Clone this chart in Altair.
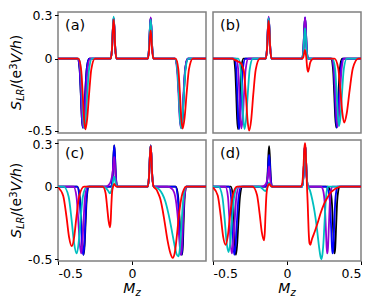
import altair as alt
import pandas as pd

SERIES = ["black", "blue", "purple", "cyan", "red"]
COLORS = {"black": "#000000", "blue": "#0000ff", "purple": "#9400d3",
          "cyan": "#00bfbf", "red": "#ff0000"}
PANEL_LABELS = ["(a)", "(b)", "(c)", "(d)"]
Y_TICKS = [-0.5, 0, 0.3]
X_TICKS = [-0.5, 0, 0.5]
X_DOMAIN = [-0.5, 0.5]
Y_DOMAIN = [-0.512, 0.322]

# ---------------- panel (a) ----------------
A_BLACK = [(-0.368,0),(-0.354,-0.071),(-0.346,-0.238),(-0.339,-0.404),(-0.332,-0.475),(-0.324,-0.404),(-0.316,-0.238),(-0.306,-0.071),(-0.29,0),
           (-0.144,0),(-0.135,0.07),(-0.129,0.21),(-0.124,0.28),(-0.119,0.21),(-0.113,0.07),(-0.104,0),
           (0.106,0),(0.115,0.07),(0.121,0.21),(0.126,0.28),(0.131,0.21),(0.137,0.07),(0.146,0),
           (0.291,0),(0.307,-0.071),(0.317,-0.238),(0.325,-0.404),(0.333,-0.475),(0.342,-0.404),(0.35,-0.238),(0.36,-0.071),(0.377,0)]
A_BLUE = [(-0.368,0),(-0.354,-0.071),(-0.346,-0.238),(-0.339,-0.404),(-0.332,-0.475),(-0.324,-0.404),(-0.316,-0.238),(-0.306,-0.071),(-0.29,0),
          (-0.144,0),(-0.135,0.07),(-0.129,0.21),(-0.124,0.28),(-0.119,0.21),(-0.113,0.07),(-0.104,0),
          (0.106,0),(0.115,0.07),(0.121,0.21),(0.126,0.28),(0.131,0.21),(0.137,0.07),(0.146,0),
          (0.291,0),(0.307,-0.071),(0.317,-0.238),(0.325,-0.404),(0.333,-0.475),(0.342,-0.404),(0.35,-0.238),(0.36,-0.071),(0.377,0)]
A_PURPLE = [(-0.365,0),(-0.351,-0.071),(-0.343,-0.238),(-0.336,-0.404),(-0.329,-0.475),(-0.32,-0.404),(-0.311,-0.238),(-0.3,-0.071),(-0.282,0),
            (-0.144,0),(-0.135,0.07),(-0.129,0.21),(-0.124,0.28),(-0.119,0.21),(-0.113,0.07),(-0.104,0),
            (0.106,0),(0.115,0.071),(0.121,0.214),(0.126,0.285),(0.131,0.214),(0.137,0.071),(0.146,0),
            (0.288,0),(0.304,-0.071),(0.314,-0.238),(0.322,-0.404),(0.33,-0.475),(0.339,-0.404),(0.348,-0.238),(0.359,-0.071),(0.377,0)]
A_CYAN = [(-0.361,0),(-0.346,-0.072),(-0.337,-0.24),(-0.33,-0.408),(-0.322,-0.48),(-0.312,-0.408),(-0.302,-0.24),(-0.29,-0.072),(-0.27,0),
          (-0.144,0),(-0.135,0.073),(-0.129,0.218),(-0.124,0.29),(-0.119,0.218),(-0.113,0.073),(-0.104,0),
          (0.106,0),(0.115,0.068),(0.121,0.203),(0.126,0.27),(0.131,0.203),(0.137,0.068),(0.146,0),
          (0.29,0),(0.306,-0.072),(0.316,-0.24),(0.324,-0.408),(0.332,-0.48),(0.341,-0.408),(0.351,-0.24),(0.362,-0.072),(0.381,0)]
A_RED = [(-0.362,0),(-0.344,-0.073),(-0.333,-0.244),(-0.324,-0.414),(-0.315,-0.487),(-0.303,-0.414),(-0.29,-0.244),(-0.275,-0.073),(-0.25,0),
         (-0.144,0),(-0.135,0.068),(-0.129,0.203),(-0.124,0.27),(-0.119,0.203),(-0.113,0.068),(-0.104,0),
         (0.106,0),(0.115,0.049),(0.121,0.146),(0.126,0.195),(0.131,0.146),(0.137,0.049),(0.146,0),
         (0.295,0),(0.313,-0.072),(0.324,-0.241),(0.333,-0.41),(0.342,-0.482),(0.355,-0.41),(0.369,-0.241),(0.385,-0.072),(0.412,0)]

# ---------------- panel (b) ----------------
B_BLACK = [(-0.362,0),(-0.35,-0.073),(-0.343,-0.244),(-0.337,-0.414),(-0.331,-0.487),(-0.324,-0.414),(-0.317,-0.244),(-0.309,-0.073),(-0.295,0),
           (-0.144,0),(-0.135,0.07),(-0.129,0.21),(-0.124,0.28),(-0.119,0.21),(-0.113,0.07),(-0.104,0),
           (0.102,0),(0.111,0.07),(0.117,0.21),(0.122,0.28),(0.127,0.21),(0.133,0.07),(0.142,0),
           (0.297,0),(0.311,-0.071),(0.319,-0.238),(0.326,-0.404),(0.333,-0.475),(0.341,-0.404),(0.348,-0.238),(0.357,-0.071),(0.372,0)]
B_BLUE = [(-0.355,0),(-0.343,-0.073),(-0.336,-0.244),(-0.33,-0.414),(-0.324,-0.487),(-0.316,-0.414),(-0.308,-0.244),(-0.298,-0.073),(-0.282,0),
          (-0.144,0),(-0.135,0.07),(-0.129,0.21),(-0.124,0.28),(-0.119,0.21),(-0.113,0.07),(-0.104,0),
          (0.102,0),(0.111,0.071),(0.117,0.214),(0.122,0.285),(0.127,0.214),(0.133,0.071),(0.142,0),
          (0.301,0),(0.315,-0.071),(0.323,-0.238),(0.33,-0.404),(0.337,-0.475),(0.345,-0.404),(0.353,-0.238),(0.363,-0.071),(0.379,0)]
B_PURPLE = [(-0.344,0),(-0.33,-0.072),(-0.322,-0.24),(-0.315,-0.408),(-0.308,-0.48),(-0.299,-0.408),(-0.29,-0.24),(-0.279,-0.072),(-0.261,0),
            (-0.144,0),(-0.135,0.073),(-0.129,0.218),(-0.124,0.29),(-0.119,0.218),(-0.113,0.073),(-0.104,0),
            (0.102,0),(0.111,0.071),(0.117,0.214),(0.122,0.285),(0.127,0.214),(0.133,0.071),(0.142,0),
            (0.303,0),(0.318,-0.07),(0.327,-0.235),(0.335,-0.4),(0.342,-0.47),(0.351,-0.4),(0.359,-0.235),(0.369,-0.07),(0.386,0)]
B_CYAN = [(-0.329,0),(-0.313,-0.073),(-0.303,-0.243),(-0.295,-0.412),(-0.287,-0.485),(-0.276,-0.412),(-0.265,-0.243),(-0.252,-0.073),(-0.23,0),
          (-0.144,0),(-0.135,0.07),(-0.129,0.21),(-0.124,0.28),(-0.119,0.21),(-0.113,0.07),(-0.104,0),
          (0.102,0),(0.111,0.053),(0.117,0.158),(0.122,0.21),(0.127,0.158),(0.133,0.053),(0.142,0),
          (0.308,0),(0.325,-0.07),(0.335,-0.233),(0.344,-0.395),(0.352,-0.465),(0.362,-0.395),(0.372,-0.233),(0.384,-0.07),(0.404,0)]
B_RED = [(-0.37,0),(-0.35,-0.01),(-0.33,-0.02),(-0.313,-0.03),(-0.291,-0.09),(-0.278,-0.25),(-0.267,-0.42),(-0.256,-0.495),(-0.242,-0.421),(-0.228,-0.248),(-0.211,-0.074),(-0.183,0),
         (-0.144,0),(-0.135,0.065),(-0.129,0.195),(-0.124,0.26),(-0.119,0.195),(-0.113,0.065),(-0.104,0),
         (0.1,0),(0.11,0.01),(0.116,0.04),(0.121,0.06),(0.126,0.04),(0.131,0.0),(0.136,-0.06),(0.142,-0.09),(0.148,-0.07),(0.156,-0.03),(0.165,-0.01),(0.18,0),
         (0.321,0),(0.346,-0.066),(0.361,-0.22),(0.374,-0.374),(0.386,-0.44),(0.404,-0.374),(0.423,-0.22),(0.445,-0.066),(0.482,0)]

# ---------------- panel (c) ----------------
C_BLACK = [(-0.369,0),(-0.353,-0.071),(-0.343,-0.235),(-0.335,-0.4),(-0.327,-0.47),(-0.32,-0.4),(-0.313,-0.235),(-0.305,-0.071),(-0.291,0),
           (-0.14,0),(-0.131,0.071),(-0.125,0.214),(-0.12,0.285),(-0.115,0.214),(-0.109,0.071),(-0.1,0),
           (0.106,0),(0.115,0.071),(0.121,0.214),(0.126,0.285),(0.131,0.214),(0.137,0.071),(0.146,0),
           (0.296,0),(0.312,-0.071),(0.322,-0.235),(0.33,-0.4),(0.338,-0.47),(0.344,-0.4),(0.349,-0.235),(0.356,-0.071),(0.367,0)]
C_BLUE = [(-0.371,0),(-0.355,-0.071),(-0.345,-0.235),(-0.337,-0.4),(-0.329,-0.47),(-0.322,-0.4),(-0.315,-0.235),(-0.307,-0.071),(-0.293,0),
          (-0.14,0),(-0.131,0.071),(-0.125,0.214),(-0.12,0.285),(-0.115,0.214),(-0.109,0.071),(-0.1,0),
          (0.106,0),(0.115,0.071),(0.121,0.214),(0.126,0.285),(0.131,0.214),(0.137,0.071),(0.146,0),
          (0.293,0),(0.309,-0.071),(0.319,-0.235),(0.327,-0.4),(0.335,-0.47),(0.341,-0.4),(0.346,-0.235),(0.353,-0.071),(0.364,0)]
C_PURPLE = [(-0.395,0),(-0.375,-0.069),(-0.363,-0.23),(-0.353,-0.391),(-0.343,-0.46),(-0.335,-0.391),(-0.327,-0.23),(-0.317,-0.069),(-0.301,0),
            (-0.175,0),(-0.155,0.015),(-0.142,0.04),(-0.132,0.09),(-0.125,0.16),(-0.12,0.205),(-0.115,0.15),(-0.109,0.05),(-0.1,0),
            (0.106,0),(0.115,0.07),(0.121,0.21),(0.126,0.28),(0.131,0.21),(0.137,0.07),(0.146,0),
            (0.24,0),(0.265,-0.01),(0.285,-0.04),(0.3,-0.12),(0.31,-0.22),(0.32,-0.37),(0.329,-0.47),(0.336,-0.42),(0.342,-0.28),(0.35,-0.12),(0.358,-0.04),(0.37,0)]
C_CYAN = [(-0.462,0),(-0.428,-0.069),(-0.408,-0.23),(-0.391,-0.391),(-0.374,-0.46),(-0.361,-0.391),(-0.348,-0.23),(-0.332,-0.069),(-0.306,0),
          (-0.2,0),(-0.175,-0.01),(-0.16,-0.03),(-0.15,-0.045),(-0.142,-0.035),(-0.134,-0.005),(-0.126,0.05),(-0.12,0.07),(-0.115,0.05),(-0.109,0.015),(-0.1,0),
          (0.106,0),(0.115,0.07),(0.121,0.21),(0.126,0.28),(0.131,0.21),(0.137,0.07),(0.146,0),(0.165,-0.005),(0.185,-0.02),(0.205,-0.05),(0.225,-0.1),
          (0.245,-0.18),(0.265,-0.28),(0.285,-0.39),(0.3,-0.46),(0.313,-0.48),(0.322,-0.44),(0.332,-0.3),(0.342,-0.14),(0.352,-0.04),(0.365,0)]
C_RED = [(-0.5,-0.005),(-0.465,-0.062),(-0.443,-0.205),(-0.425,-0.349),(-0.407,-0.41),(-0.391,-0.349),(-0.375,-0.205),(-0.356,-0.062),(-0.324,0),
         (-0.198,0),(-0.179,-0.042),(-0.168,-0.14),(-0.158,-0.238),(-0.149,-0.28),(-0.144,-0.238),(-0.14,-0.14),(-0.135,-0.042),(-0.128,0),(-0.121,0.02),(-0.114,0.01),(-0.104,0),
         (0.106,0),(0.115,0.07),(0.121,0.21),(0.126,0.28),(0.131,0.21),(0.137,0.07),(0.145,0.005),(0.155,-0.01),(0.165,-0.02),(0.175,-0.04),(0.19,-0.08),
         (0.205,-0.15),(0.22,-0.24),(0.24,-0.37),(0.26,-0.46),(0.275,-0.49),(0.29,-0.45),(0.305,-0.32),(0.32,-0.17),(0.335,-0.07),(0.35,-0.02),(0.365,0)]

# ---------------- panel (d) ----------------
D_BLACK = [(-0.379,0),(-0.366,-0.071),(-0.358,-0.235),(-0.352,-0.4),(-0.345,-0.47),(-0.337,-0.4),(-0.328,-0.235),(-0.318,-0.071),(-0.301,0),
           (-0.141,0),(-0.132,0.07),(-0.126,0.21),(-0.121,0.28),(-0.116,0.21),(-0.11,0.07),(-0.101,0),
           (0.102,0),(0.111,0.073),(0.117,0.218),(0.122,0.29),(0.127,0.218),(0.133,0.073),(0.142,0),
           (0.275,0),(0.293,-0.03),(0.304,-0.12),(0.312,-0.3),(0.317,-0.42),(0.321,-0.46),(0.326,-0.42),(0.332,-0.27),(0.339,-0.1),(0.346,-0.03),(0.355,0)]
D_BLUE = [(-0.392,0),(-0.378,-0.071),(-0.37,-0.235),(-0.363,-0.4),(-0.356,-0.47),(-0.347,-0.4),(-0.338,-0.235),(-0.327,-0.071),(-0.309,0),
          (-0.141,0),(-0.132,0.055),(-0.126,0.165),(-0.121,0.22),(-0.116,0.165),(-0.11,0.055),(-0.101,0),
          (0.102,0),(0.111,0.073),(0.117,0.218),(0.122,0.29),(0.127,0.218),(0.133,0.073),(0.142,0),
          (0.262,0),(0.28,-0.03),(0.291,-0.12),(0.299,-0.3),(0.304,-0.42),(0.308,-0.46),(0.313,-0.42),(0.319,-0.27),(0.326,-0.1),(0.333,-0.03),(0.342,0)]
D_PURPLE = [(-0.416,0),(-0.399,-0.069),(-0.389,-0.23),(-0.381,-0.391),(-0.372,-0.46),(-0.363,-0.391),(-0.353,-0.23),(-0.342,-0.069),(-0.323,0),
            (-0.17,0),(-0.15,0.01),(-0.138,0.03),(-0.13,0.07),(-0.125,0.11),(-0.121,0.14),(-0.117,0.1),(-0.111,0.03),(-0.1,0),
            (0.102,0),(0.111,0.073),(0.117,0.218),(0.122,0.29),(0.127,0.218),(0.133,0.073),(0.142,0),
            (0.23,0),(0.245,-0.03),(0.255,-0.12),(0.263,-0.3),(0.268,-0.42),(0.272,-0.46),(0.277,-0.42),(0.283,-0.27),(0.29,-0.1),(0.297,-0.03),(0.305,0)]
D_CYAN = [(-0.463,0),(-0.437,-0.068),(-0.421,-0.225),(-0.408,-0.383),(-0.395,-0.45),(-0.383,-0.383),(-0.371,-0.225),(-0.357,-0.068),(-0.333,0),
          (-0.19,0),(-0.17,-0.01),(-0.155,-0.025),(-0.145,-0.03),(-0.135,-0.01),(-0.127,0.015),(-0.121,0.03),(-0.115,0.015),(-0.105,0),
          (0.102,0),(0.111,0.073),(0.117,0.218),(0.122,0.29),(0.127,0.218),(0.133,0.073),(0.142,0),(0.155,-0.025),(0.171,-0.09),(0.186,-0.17),
          (0.2,-0.27),(0.216,-0.41),(0.226,-0.48),(0.232,-0.5),(0.239,-0.47),(0.246,-0.39),(0.254,-0.24),(0.261,-0.11),(0.267,-0.04),(0.275,0)]
D_RED = [(-0.5,-0.005),(-0.468,-0.06),(-0.448,-0.2),(-0.432,-0.34),(-0.415,-0.4),(-0.4,-0.34),(-0.385,-0.2),(-0.367,-0.06),(-0.337,0),
         (-0.233,0),(-0.203,-0.056),(-0.185,-0.185),(-0.17,-0.315),(-0.155,-0.37),(-0.15,-0.315),(-0.145,-0.185),(-0.139,-0.056),(-0.131,0),(-0.124,0.015),(-0.118,0.02),(-0.112,0.008),(-0.1,0),
         (0.09,0),(0.1,0.01),(0.106,0.05),(0.112,0.15),(0.117,0.26),(0.121,0.3),(0.125,0.27),(0.13,0.15),(0.135,0.0),(0.14,-0.12),(0.146,-0.3),(0.152,-0.39),
         (0.158,-0.4),(0.166,-0.37),(0.18,-0.33),(0.194,-0.29),(0.21,-0.24),(0.228,-0.18),(0.25,-0.12),(0.273,-0.075),(0.295,-0.04),(0.318,-0.02),(0.34,-0.007),(0.365,0)]

PANELS = [
    {"black": A_BLACK, "blue": A_BLUE, "purple": A_PURPLE, "cyan": A_CYAN, "red": A_RED},
    {"black": B_BLACK, "blue": B_BLUE, "purple": B_PURPLE, "cyan": B_CYAN, "red": B_RED},
    {"black": C_BLACK, "blue": C_BLUE, "purple": C_PURPLE, "cyan": C_CYAN, "red": C_RED},
    {"black": D_BLACK, "blue": D_BLUE, "purple": D_PURPLE, "cyan": D_CYAN, "red": D_RED},
]

W, H = 148, 121
FONT = "DejaVu Sans"
LABEL_SIZE = 12.5


def curve_frame(pts):
    pts = list(pts)
    if pts[0][0] > -0.5:
        pts = [(-0.5, 0.0)] + pts
    if pts[-1][0] < 0.5:
        pts = pts + [(0.5, 0.0)]
    return pd.DataFrame({"x": [p[0] for p in pts], "y": [p[1] for p in pts],
                         "i": list(range(len(pts)))})


def text_piece(txt, x, y, size, italic=False, angle=0, align="left", baseline="alphabetic"):
    kw = dict(font=FONT, fontSize=size, angle=angle, align=align, baseline=baseline, color="black")
    if italic:
        kw["fontStyle"] = "italic"
    return alt.Chart(pd.DataFrame({"t": [txt]})).mark_text(**kw).encode(
        text="t:N", x=alt.value(x), y=alt.value(y))


def panel(idx):
    curves = PANELS[idx]
    left = idx in (0, 2)
    bottom = idx in (2, 3)
    if left:
        if idx == 0:
            offset = {"condition": {"test": "datum.value < -0.1", "value": -1.2}, "value": 0}
        else:
            offset = {"condition": {"test": "datum.value > 0.1", "value": 1.2}, "value": 0}
        yaxis = alt.Axis(values=Y_TICKS, title=None, domain=False, grid=False,
                         labelExpr="datum.value > 0.1 ? '0.3' : (datum.value < -0.1 ? '-0.5' : '0')",
                         tickSize=3.5, labelPadding=2.5, labelFont=FONT, labelFontSize=LABEL_SIZE,
                         labelColor="black", tickColor="black", labelOffset=offset)
    else:
        yaxis = None
    if bottom:
        vals = X_TICKS if idx == 3 else X_TICKS[:2]
        xaxis = alt.Axis(values=vals, title=None, domain=False, grid=False,
                         labelExpr="datum.value > 0.1 ? '0.5' : (datum.value < -0.1 ? '-0.5' : '0')",
                         tickSize=3.5, labelPadding=2.5, labelFont=FONT, labelFontSize=LABEL_SIZE,
                         labelColor="black", tickColor="black")
    else:
        xaxis = None
    layers = []
    for s in SERIES:
        df = curve_frame(curves[s])
        layers.append(
            alt.Chart(df).mark_line(color=COLORS[s], strokeWidth=1.8, interpolate="monotone", clip=True)
            .encode(x=alt.X("x:Q", scale=alt.Scale(domain=X_DOMAIN, nice=False, zero=False), axis=xaxis),
                    y=alt.Y("y:Q", scale=alt.Scale(domain=Y_DOMAIN, nice=False, zero=False), axis=yaxis),
                    order="i:Q")
        )
    layers.append(text_piece(PANEL_LABELS[idx], 7, 14, 14.5, baseline="middle"))
    if left:
        y0 = 98
        layers += [
            text_piece("S", -37, y0, 14, True, 270),
            text_piece("LR", -34, y0 - 8.9, 10, True, 270),
            text_piece("/(e", -37, y0 - 21.4, 14, False, 270),
            text_piece("3", -41, y0 - 40.2, 10, False, 270),
            text_piece("V/h", -37, y0 - 46.6, 14, True, 270),
            text_piece(")", -37, y0 - 69.8, 14, False, 270),
        ]
    if bottom:
        layers += [
            text_piece("M", 65.3, H + 31.5, 14, True),
            text_piece("z", 77.4, H + 34.7, 10, True),
        ]
    return alt.layer(*layers).properties(width=W, height=H)


chart = alt.concat(*[panel(i) for i in range(4)], columns=2,
                   spacing={"row": 7, "column": 7}, bounds="flush").properties(
    padding={"left": 0, "top": 0, "right": 2, "bottom": 2},
    background="white",
).configure_view(stroke="#808080", strokeWidth=1.5)

chart.save("out.html", embed_options={"renderer": "svg", "actions": False})
